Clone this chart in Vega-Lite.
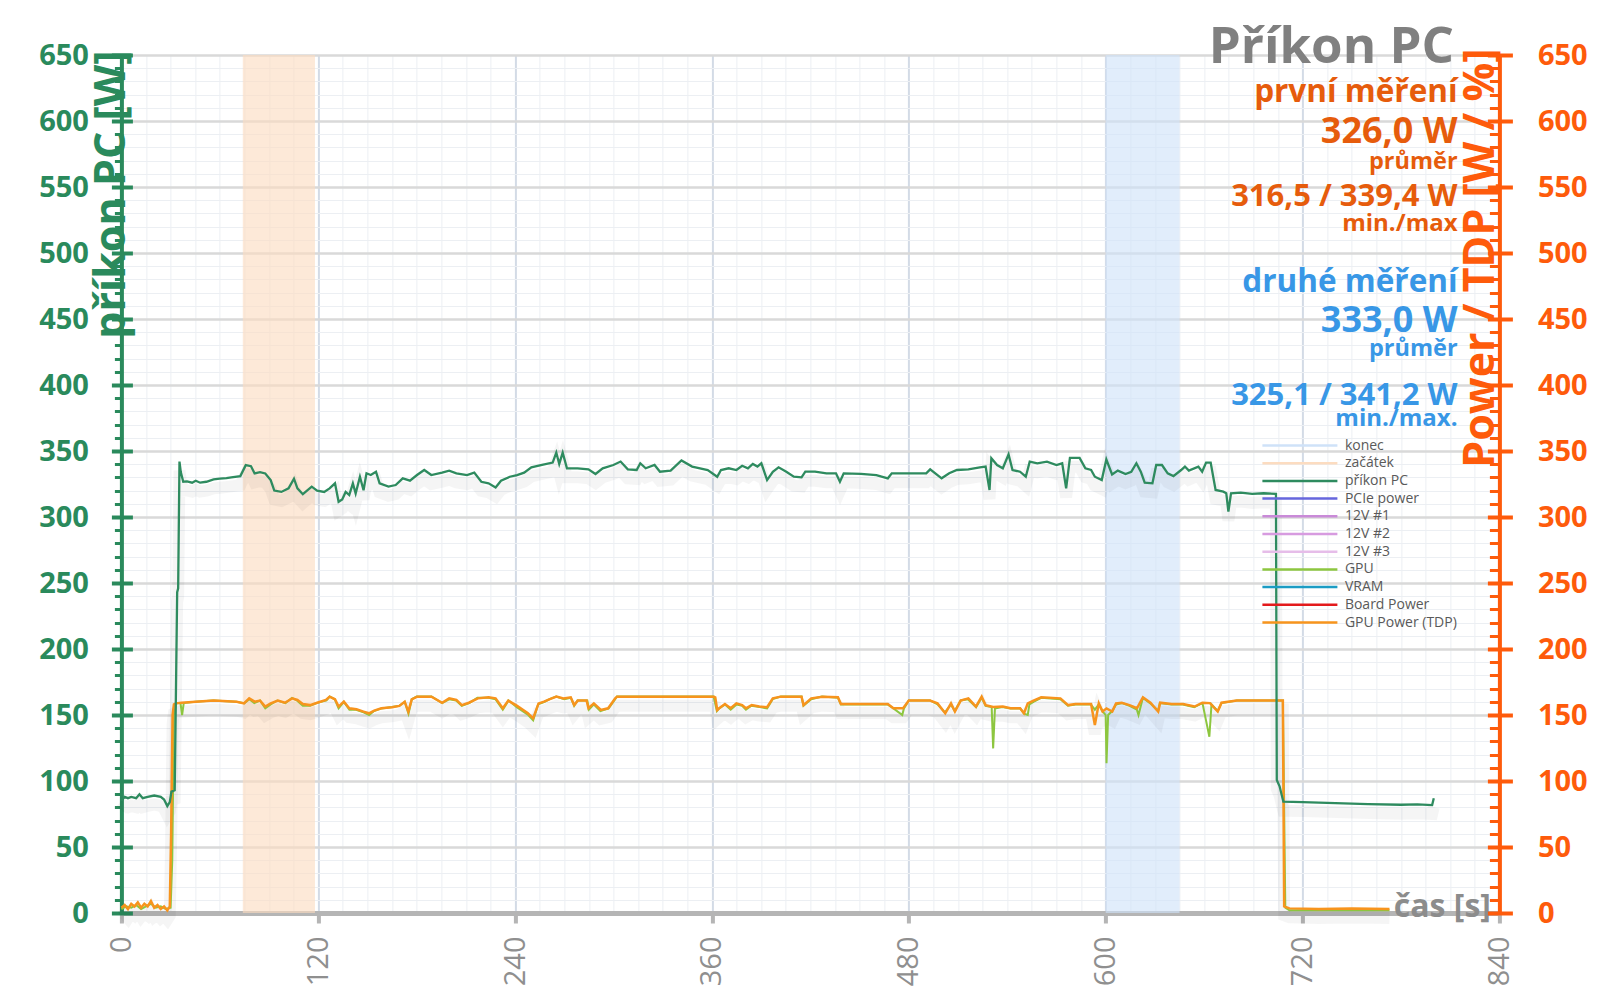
{
  "$schema": "https://vega.github.io/schema/vega-lite/v6.json",
  "width": 1378,
  "height": 858,
  "autosize": {"type": "none"},
  "padding": {"left": 121.4, "top": 55, "right": 100.6, "bottom": 95},
  "background": "#ffffff",
  "config": {
    "view": {"stroke": null},
    "axis": {"labelFont": "Open Sans", "titleFont": "Open Sans"},
    "text": {"font": "Open Sans"}
  },
  "datasets": {
    "power": [
      {"t":0,"series":"příkon PC","w":85},{"t":2,"series":"příkon PC","w":88},{"t":4,"series":"příkon PC","w":87},{"t":6,"series":"příkon PC","w":88},{"t":9,"series":"příkon PC","w":87},{"t":11,"series":"příkon PC","w":90},{"t":13,"series":"příkon PC","w":87},{"t":16,"series":"příkon PC","w":88},{"t":20,"series":"příkon PC","w":89},{"t":24,"series":"příkon PC","w":88},{"t":26,"series":"příkon PC","w":86},{"t":28,"series":"příkon PC","w":81},{"t":29.5,"series":"příkon PC","w":84},{"t":30.5,"series":"příkon PC","w":92},{"t":32.5,"series":"příkon PC","w":93},{"t":34,"series":"příkon PC","w":243},{"t":34.6,"series":"příkon PC","w":246},{"t":35.4,"series":"příkon PC","w":342},{"t":36.2,"series":"příkon PC","w":334},{"t":37.7,"series":"příkon PC","w":326.7},{"t":40,"series":"příkon PC","w":327},{"t":43.1,"series":"příkon PC","w":326},{"t":45.3,"series":"příkon PC","w":327.5},{"t":48,"series":"příkon PC","w":326},{"t":51.8,"series":"příkon PC","w":326.7},{"t":56.2,"series":"příkon PC","w":328.5},{"t":60,"series":"příkon PC","w":329},{"t":64,"series":"příkon PC","w":329.5},{"t":67,"series":"příkon PC","w":330},{"t":72.5,"series":"příkon PC","w":331},{"t":75.8,"series":"příkon PC","w":339.3},{"t":79,"series":"příkon PC","w":338.5},{"t":81.2,"series":"příkon PC","w":333},{"t":84.5,"series":"příkon PC","w":334},{"t":87.7,"series":"příkon PC","w":333},{"t":91,"series":"příkon PC","w":328},{"t":93.2,"series":"příkon PC","w":320},{"t":97.5,"series":"příkon PC","w":319},{"t":101.9,"series":"příkon PC","w":321.7},{"t":105.2,"series":"příkon PC","w":329},{"t":107.3,"series":"příkon PC","w":321.7},{"t":110.6,"series":"příkon PC","w":317.3},{"t":116,"series":"příkon PC","w":323},{"t":119.3,"series":"příkon PC","w":320},{"t":123.6,"series":"příkon PC","w":319},{"t":126.9,"series":"příkon PC","w":321.7},{"t":130.2,"series":"příkon PC","w":325.5},{"t":132.4,"series":"příkon PC","w":311.5},{"t":134.6,"series":"příkon PC","w":313.3},{"t":136.7,"series":"příkon PC","w":319},{"t":138.9,"series":"příkon PC","w":316.6},{"t":141.1,"series":"příkon PC","w":325.5},{"t":142.8,"series":"příkon PC","w":317.8},{"t":145.4,"series":"příkon PC","w":330.5},{"t":147.6,"series":"příkon PC","w":320.3},{"t":149.4,"series":"příkon PC","w":333.1},{"t":152,"series":"příkon PC","w":331.8},{"t":155.2,"series":"příkon PC","w":334.3},{"t":157.4,"series":"příkon PC","w":325.5},{"t":162.8,"series":"příkon PC","w":323},{"t":167.2,"series":"příkon PC","w":324.2},{"t":171.5,"series":"příkon PC","w":329.3},{"t":175.9,"series":"příkon PC","w":327.5},{"t":180.2,"series":"příkon PC","w":331.8},{"t":184.6,"series":"příkon PC","w":335.6},{"t":188.9,"series":"příkon PC","w":331.8},{"t":195.5,"series":"příkon PC","w":333.6},{"t":199.8,"series":"příkon PC","w":335.1},{"t":204.2,"series":"příkon PC","w":333.1},{"t":210.7,"series":"příkon PC","w":331.8},{"t":215.1,"series":"příkon PC","w":333.6},{"t":219.4,"series":"příkon PC","w":326.7},{"t":223.8,"series":"příkon PC","w":325.5},{"t":228.1,"series":"příkon PC","w":322.4},{"t":231.4,"series":"příkon PC","w":327.5},{"t":236.8,"series":"příkon PC","w":330.5},{"t":241.2,"series":"příkon PC","w":331.8},{"t":245.5,"series":"příkon PC","w":333.6},{"t":249.9,"series":"příkon PC","w":337.6},{"t":256.4,"series":"příkon PC","w":339.4},{"t":262.9,"series":"příkon PC","w":341.2},{"t":265.1,"series":"příkon PC","w":348.8},{"t":266.9,"series":"příkon PC","w":340.2},{"t":269,"series":"příkon PC","w":348.8},{"t":271.6,"series":"příkon PC","w":336.9},{"t":278.1,"series":"příkon PC","w":336.9},{"t":284.7,"series":"příkon PC","w":336.1},{"t":289,"series":"příkon PC","w":332.6},{"t":293.4,"series":"příkon PC","w":336.9},{"t":299.9,"series":"příkon PC","w":339.4},{"t":304.3,"series":"příkon PC","w":342},{"t":308.7,"series":"příkon PC","w":336.1},{"t":314.1,"series":"příkon PC","w":335.6},{"t":316.3,"series":"příkon PC","w":340.7},{"t":319.6,"series":"příkon PC","w":336.9},{"t":325,"series":"příkon PC","w":339.4},{"t":328.3,"series":"příkon PC","w":334.3},{"t":334.8,"series":"příkon PC","w":335.1},{"t":341.4,"series":"příkon PC","w":342.8},{"t":347.9,"series":"příkon PC","w":338.2},{"t":352.7,"series":"příkon PC","w":336.8},{"t":357.4,"series":"příkon PC","w":335.5},{"t":363.2,"series":"příkon PC","w":330.5},{"t":365.5,"series":"příkon PC","w":335.6},{"t":370.2,"series":"příkon PC","w":336.9},{"t":374.9,"series":"příkon PC","w":335.6},{"t":378.4,"series":"příkon PC","w":338.8},{"t":381.9,"series":"příkon PC","w":336.9},{"t":384.9,"series":"příkon PC","w":340.2},{"t":387.7,"series":"příkon PC","w":338.2},{"t":390.1,"series":"příkon PC","w":340.7},{"t":393.6,"series":"příkon PC","w":328},{"t":397.1,"series":"příkon PC","w":334.3},{"t":400.6,"series":"příkon PC","w":337.6},{"t":405.3,"series":"příkon PC","w":334.3},{"t":409.9,"series":"příkon PC","w":330.5},{"t":414.6,"series":"příkon PC","w":330},{"t":416.9,"series":"příkon PC","w":334.3},{"t":422.8,"series":"příkon PC","w":334.3},{"t":429.8,"series":"příkon PC","w":333.1},{"t":435.6,"series":"příkon PC","w":333.1},{"t":438,"series":"příkon PC","w":326.7},{"t":440.3,"series":"příkon PC","w":333.1},{"t":450.8,"series":"příkon PC","w":332.6},{"t":460.2,"series":"příkon PC","w":331.8},{"t":467.2,"series":"příkon PC","w":329.3},{"t":469.6,"series":"příkon PC","w":333.1},{"t":483.6,"series":"příkon PC","w":333.1},{"t":490.6,"series":"příkon PC","w":333.1},{"t":493,"series":"příkon PC","w":336.1},{"t":500,"series":"příkon PC","w":329.3},{"t":504.6,"series":"příkon PC","w":333.1},{"t":509.3,"series":"příkon PC","w":335.6},{"t":516.3,"series":"příkon PC","w":336.1},{"t":523.3,"series":"příkon PC","w":337.6},{"t":526.8,"series":"příkon PC","w":338.2},{"t":529.2,"series":"příkon PC","w":320.5},{"t":530.3,"series":"příkon PC","w":344.5},{"t":533.8,"series":"příkon PC","w":339.4},{"t":537.3,"series":"příkon PC","w":336.9},{"t":540.8,"series":"příkon PC","w":347.4},{"t":543.2,"series":"příkon PC","w":335.6},{"t":547.8,"series":"příkon PC","w":334.3},{"t":551.3,"series":"příkon PC","w":330.5},{"t":553.7,"series":"příkon PC","w":341.9},{"t":558.3,"series":"příkon PC","w":340.7},{"t":564.2,"series":"příkon PC","w":341.9},{"t":570,"series":"příkon PC","w":339.4},{"t":573.5,"series":"příkon PC","w":340.7},{"t":575.9,"series":"příkon PC","w":321.7},{"t":578.2,"series":"příkon PC","w":344.8},{"t":584.1,"series":"příkon PC","w":344.8},{"t":587.6,"series":"příkon PC","w":336.9},{"t":591.1,"series":"příkon PC","w":335.6},{"t":593.4,"series":"příkon PC","w":330.5},{"t":597.6,"series":"příkon PC","w":328},{"t":600.4,"series":"příkon PC","w":343.5},{"t":603.9,"series":"příkon PC","w":332.2},{"t":607.4,"series":"příkon PC","w":335.1},{"t":612.1,"series":"příkon PC","w":332.6},{"t":615.6,"series":"příkon PC","w":334.3},{"t":618.7,"series":"příkon PC","w":340.7},{"t":621.4,"series":"příkon PC","w":334.3},{"t":623.8,"series":"příkon PC","w":326},{"t":628.5,"series":"příkon PC","w":325.5},{"t":630.8,"series":"příkon PC","w":339.4},{"t":634.3,"series":"příkon PC","w":339.4},{"t":637.8,"series":"příkon PC","w":333.1},{"t":641.3,"series":"příkon PC","w":331},{"t":646,"series":"příkon PC","w":335.6},{"t":648.3,"series":"příkon PC","w":338.2},{"t":650.7,"series":"příkon PC","w":335.1},{"t":656.5,"series":"příkon PC","w":338.2},{"t":658.8,"series":"příkon PC","w":334.3},{"t":661.2,"series":"příkon PC","w":341.2},{"t":664,"series":"příkon PC","w":341.2},{"t":667,"series":"příkon PC","w":320.5},{"t":671.7,"series":"příkon PC","w":319.2},{"t":673.5,"series":"příkon PC","w":318},{"t":674.8,"series":"příkon PC","w":304.1},{"t":676.4,"series":"příkon PC","w":318},{"t":682.3,"series":"příkon PC","w":318.5},{"t":689.3,"series":"příkon PC","w":317.5},{"t":696.3,"series":"příkon PC","w":318},{"t":703.8,"series":"příkon PC","w":317.5},{"t":704.3,"series":"příkon PC","w":100.7},{"t":706,"series":"příkon PC","w":96},{"t":708.3,"series":"příkon PC","w":84.3},{"t":720,"series":"příkon PC","w":84},{"t":740,"series":"příkon PC","w":83.3},{"t":760,"series":"příkon PC","w":82.5},{"t":780,"series":"příkon PC","w":82},{"t":790,"series":"příkon PC","w":82.3},{"t":799,"series":"příkon PC","w":81.8},{"t":800,"series":"příkon PC","w":87},

      {"t":0,"series":"GPU","w":3},{"t":3,"series":"GPU","w":5},{"t":6,"series":"GPU","w":4},{"t":9,"series":"GPU","w":6},{"t":12,"series":"GPU","w":3},{"t":15,"series":"GPU","w":5},{"t":18,"series":"GPU","w":7},{"t":21,"series":"GPU","w":4},{"t":24,"series":"GPU","w":5},{"t":27,"series":"GPU","w":3},{"t":30,"series":"GPU","w":4},{"t":31,"series":"GPU","w":40},{"t":32,"series":"GPU","w":150},{"t":33.5,"series":"GPU","w":159},{"t":36,"series":"GPU","w":159},{"t":37,"series":"GPU","w":150},{"t":38,"series":"GPU","w":159},{"t":45,"series":"GPU","w":160},{"t":56,"series":"GPU","w":161},{"t":70,"series":"GPU","w":160},{"t":75,"series":"GPU","w":159},{"t":78,"series":"GPU","w":162},{"t":81,"series":"GPU","w":159},{"t":84.5,"series":"GPU","w":161},{"t":87.7,"series":"GPU","w":155},{"t":91,"series":"GPU","w":158},{"t":95,"series":"GPU","w":161},{"t":100,"series":"GPU","w":159},{"t":104,"series":"GPU","w":163},{"t":107,"series":"GPU","w":161},{"t":110.6,"series":"GPU","w":157},{"t":115,"series":"GPU","w":157},{"t":119,"series":"GPU","w":159},{"t":125,"series":"GPU","w":161},{"t":127,"series":"GPU","w":164},{"t":130,"series":"GPU","w":162},{"t":132.4,"series":"GPU","w":155},{"t":135.6,"series":"GPU","w":160},{"t":139,"series":"GPU","w":154},{"t":143,"series":"GPU","w":154},{"t":147.6,"series":"GPU","w":152},{"t":151,"series":"GPU","w":150},{"t":154,"series":"GPU","w":153},{"t":158.5,"series":"GPU","w":155},{"t":165,"series":"GPU","w":156},{"t":169.4,"series":"GPU","w":157},{"t":172.7,"series":"GPU","w":160},{"t":175,"series":"GPU","w":151},{"t":177,"series":"GPU","w":162},{"t":180,"series":"GPU","w":164},{"t":189,"series":"GPU","w":164},{"t":195.5,"series":"GPU","w":159},{"t":200,"series":"GPU","w":162},{"t":204,"series":"GPU","w":161},{"t":207.5,"series":"GPU","w":157},{"t":212,"series":"GPU","w":159},{"t":217,"series":"GPU","w":163},{"t":224,"series":"GPU","w":163},{"t":228,"series":"GPU","w":162},{"t":232.5,"series":"GPU","w":154},{"t":236,"series":"GPU","w":161},{"t":241,"series":"GPU","w":156},{"t":248,"series":"GPU","w":150},{"t":251,"series":"GPU","w":146},{"t":254,"series":"GPU","w":158},{"t":258,"series":"GPU","w":160},{"t":261,"series":"GPU","w":162},{"t":265,"series":"GPU","w":164},{"t":270,"series":"GPU","w":162},{"t":274,"series":"GPU","w":163},{"t":276,"series":"GPU","w":157},{"t":278,"series":"GPU","w":161},{"t":284,"series":"GPU","w":161},{"t":285,"series":"GPU","w":154},{"t":288,"series":"GPU","w":158},{"t":292,"series":"GPU","w":153},{"t":297,"series":"GPU","w":155},{"t":301,"series":"GPU","w":162},{"t":302,"series":"GPU","w":164},{"t":361,"series":"GPU","w":164},{"t":363,"series":"GPU","w":153},{"t":364.4,"series":"GPU","w":155},{"t":368,"series":"GPU","w":158},{"t":371.4,"series":"GPU","w":154},{"t":375,"series":"GPU","w":158},{"t":378.4,"series":"GPU","w":157},{"t":380.7,"series":"GPU","w":154},{"t":384,"series":"GPU","w":157},{"t":389,"series":"GPU","w":156},{"t":393.6,"series":"GPU","w":155},{"t":397,"series":"GPU","w":162},{"t":402,"series":"GPU","w":164},{"t":414.6,"series":"GPU","w":164},{"t":415.8,"series":"GPU","w":157},{"t":420.5,"series":"GPU","w":162},{"t":427,"series":"GPU","w":164},{"t":436.8,"series":"GPU","w":163},{"t":438.6,"series":"GPU","w":158},{"t":467,"series":"GPU","w":158},{"t":470.6,"series":"GPU","w":155},{"t":476,"series":"GPU","w":150},{"t":477,"series":"GPU","w":155},{"t":480,"series":"GPU","w":161},{"t":493,"series":"GPU","w":161},{"t":497.5,"series":"GPU","w":158},{"t":502,"series":"GPU","w":152},{"t":505.7,"series":"GPU","w":158},{"t":508,"series":"GPU","w":153},{"t":511.6,"series":"GPU","w":161},{"t":516,"series":"GPU","w":162},{"t":521,"series":"GPU","w":156},{"t":524.4,"series":"GPU","w":163},{"t":526.8,"series":"GPU","w":157},{"t":530.5,"series":"GPU","w":156},{"t":531.4,"series":"GPU","w":124.7},{"t":532.5,"series":"GPU","w":155},{"t":537,"series":"GPU","w":156},{"t":542,"series":"GPU","w":155},{"t":548,"series":"GPU","w":155},{"t":550.2,"series":"GPU","w":151},{"t":552.5,"series":"GPU","w":150},{"t":553.5,"series":"GPU","w":158},{"t":556,"series":"GPU","w":160},{"t":560.7,"series":"GPU","w":163},{"t":572.4,"series":"GPU","w":162},{"t":577,"series":"GPU","w":157},{"t":581.7,"series":"GPU","w":158},{"t":591,"series":"GPU","w":158},{"t":593.4,"series":"GPU","w":154},{"t":595.8,"series":"GPU","w":158},{"t":598,"series":"GPU","w":153},{"t":600,"series":"GPU","w":150},{"t":600.5,"series":"GPU","w":113.4},{"t":601.5,"series":"GPU","w":150},{"t":604,"series":"GPU","w":153},{"t":606.3,"series":"GPU","w":158},{"t":610,"series":"GPU","w":159},{"t":614.5,"series":"GPU","w":157},{"t":619,"series":"GPU","w":154},{"t":620,"series":"GPU","w":150},{"t":622.7,"series":"GPU","w":163},{"t":627,"series":"GPU","w":159},{"t":632,"series":"GPU","w":153},{"t":633,"series":"GPU","w":159},{"t":640,"series":"GPU","w":158},{"t":647,"series":"GPU","w":158},{"t":654,"series":"GPU","w":156},{"t":659,"series":"GPU","w":159},{"t":663.2,"series":"GPU","w":133.5},{"t":664.5,"series":"GPU","w":158},{"t":668.3,"series":"GPU","w":153},{"t":670.6,"series":"GPU","w":159},{"t":680,"series":"GPU","w":161},{"t":708,"series":"GPU","w":161},{"t":709.5,"series":"GPU","w":4},{"t":712,"series":"GPU","w":2},{"t":740,"series":"GPU","w":2},{"t":773,"series":"GPU","w":2},

      {"t":0,"series":"GPU Power (TDP)","w":4},{"t":2,"series":"GPU Power (TDP)","w":6},{"t":4,"series":"GPU Power (TDP)","w":3},{"t":6,"series":"GPU Power (TDP)","w":7},{"t":8,"series":"GPU Power (TDP)","w":5},{"t":10,"series":"GPU Power (TDP)","w":8},{"t":12,"series":"GPU Power (TDP)","w":4},{"t":14,"series":"GPU Power (TDP)","w":7},{"t":16,"series":"GPU Power (TDP)","w":5},{"t":18,"series":"GPU Power (TDP)","w":9},{"t":20,"series":"GPU Power (TDP)","w":4},{"t":22,"series":"GPU Power (TDP)","w":6},{"t":24,"series":"GPU Power (TDP)","w":3},{"t":26,"series":"GPU Power (TDP)","w":5},{"t":28,"series":"GPU Power (TDP)","w":2},{"t":29.5,"series":"GPU Power (TDP)","w":5},{"t":30.3,"series":"GPU Power (TDP)","w":60},{"t":31.2,"series":"GPU Power (TDP)","w":150},{"t":32,"series":"GPU Power (TDP)","w":158},{"t":33.3,"series":"GPU Power (TDP)","w":158.8},{"t":36.6,"series":"GPU Power (TDP)","w":159.3},{"t":45.3,"series":"GPU Power (TDP)","w":160.1},{"t":56.2,"series":"GPU Power (TDP)","w":160.9},{"t":70.3,"series":"GPU Power (TDP)","w":160.1},{"t":74.7,"series":"GPU Power (TDP)","w":158.8},{"t":77.9,"series":"GPU Power (TDP)","w":162.6},{"t":81.2,"series":"GPU Power (TDP)","w":160.1},{"t":84.5,"series":"GPU Power (TDP)","w":160.9},{"t":87.7,"series":"GPU Power (TDP)","w":156.4},{"t":91,"series":"GPU Power (TDP)","w":158.8},{"t":95.4,"series":"GPU Power (TDP)","w":160.9},{"t":99.7,"series":"GPU Power (TDP)","w":159.3},{"t":104.1,"series":"GPU Power (TDP)","w":162.6},{"t":107.3,"series":"GPU Power (TDP)","w":161.4},{"t":110.6,"series":"GPU Power (TDP)","w":158.3},{"t":115,"series":"GPU Power (TDP)","w":157.5},{"t":119.3,"series":"GPU Power (TDP)","w":159.3},{"t":124.7,"series":"GPU Power (TDP)","w":161.4},{"t":126.9,"series":"GPU Power (TDP)","w":163.9},{"t":130.2,"series":"GPU Power (TDP)","w":161.9},{"t":132.4,"series":"GPU Power (TDP)","w":156.4},{"t":135.6,"series":"GPU Power (TDP)","w":160.1},{"t":138.9,"series":"GPU Power (TDP)","w":155.1},{"t":143.3,"series":"GPU Power (TDP)","w":154.3},{"t":147.6,"series":"GPU Power (TDP)","w":152.6},{"t":150.9,"series":"GPU Power (TDP)","w":151.3},{"t":154.1,"series":"GPU Power (TDP)","w":153.3},{"t":158.5,"series":"GPU Power (TDP)","w":155.1},{"t":165,"series":"GPU Power (TDP)","w":155.9},{"t":169.4,"series":"GPU Power (TDP)","w":156.9},{"t":172.7,"series":"GPU Power (TDP)","w":160.1},{"t":174.9,"series":"GPU Power (TDP)","w":152.6},{"t":177,"series":"GPU Power (TDP)","w":161.9},{"t":180.3,"series":"GPU Power (TDP)","w":163.9},{"t":189,"series":"GPU Power (TDP)","w":163.9},{"t":195.5,"series":"GPU Power (TDP)","w":159.3},{"t":199.8,"series":"GPU Power (TDP)","w":162.6},{"t":204.2,"series":"GPU Power (TDP)","w":161.4},{"t":207.5,"series":"GPU Power (TDP)","w":157.5},{"t":211.8,"series":"GPU Power (TDP)","w":159.3},{"t":217.3,"series":"GPU Power (TDP)","w":162.6},{"t":223.8,"series":"GPU Power (TDP)","w":163.4},{"t":228.1,"series":"GPU Power (TDP)","w":162.6},{"t":232.5,"series":"GPU Power (TDP)","w":155.1},{"t":235.8,"series":"GPU Power (TDP)","w":160.9},{"t":241.2,"series":"GPU Power (TDP)","w":156.9},{"t":247.8,"series":"GPU Power (TDP)","w":151.3},{"t":251,"series":"GPU Power (TDP)","w":147.5},{"t":254.3,"series":"GPU Power (TDP)","w":158.8},{"t":257.6,"series":"GPU Power (TDP)","w":160.1},{"t":260.8,"series":"GPU Power (TDP)","w":161.9},{"t":265.2,"series":"GPU Power (TDP)","w":163.9},{"t":269.5,"series":"GPU Power (TDP)","w":162.6},{"t":273.9,"series":"GPU Power (TDP)","w":163.4},{"t":276,"series":"GPU Power (TDP)","w":157.5},{"t":278.2,"series":"GPU Power (TDP)","w":160.9},{"t":283.6,"series":"GPU Power (TDP)","w":160.9},{"t":284.7,"series":"GPU Power (TDP)","w":155.1},{"t":288,"series":"GPU Power (TDP)","w":158.8},{"t":292.3,"series":"GPU Power (TDP)","w":153.8},{"t":296.7,"series":"GPU Power (TDP)","w":155.1},{"t":301,"series":"GPU Power (TDP)","w":162.6},{"t":302.2,"series":"GPU Power (TDP)","w":163.9},{"t":328.3,"series":"GPU Power (TDP)","w":163.9},{"t":361,"series":"GPU Power (TDP)","w":163.9},{"t":362,"series":"GPU Power (TDP)","w":163.4},{"t":363.2,"series":"GPU Power (TDP)","w":153.8},{"t":364.4,"series":"GPU Power (TDP)","w":155.1},{"t":367.9,"series":"GPU Power (TDP)","w":158.3},{"t":371.4,"series":"GPU Power (TDP)","w":155.1},{"t":374.9,"series":"GPU Power (TDP)","w":158.8},{"t":378.4,"series":"GPU Power (TDP)","w":157.5},{"t":380.7,"series":"GPU Power (TDP)","w":155.1},{"t":384.2,"series":"GPU Power (TDP)","w":157.5},{"t":388.9,"series":"GPU Power (TDP)","w":156.4},{"t":393.6,"series":"GPU Power (TDP)","w":155.9},{"t":397.1,"series":"GPU Power (TDP)","w":162.6},{"t":401.8,"series":"GPU Power (TDP)","w":163.9},{"t":414.6,"series":"GPU Power (TDP)","w":163.9},{"t":415.8,"series":"GPU Power (TDP)","w":157.5},{"t":420.5,"series":"GPU Power (TDP)","w":162.6},{"t":427.4,"series":"GPU Power (TDP)","w":163.9},{"t":436.8,"series":"GPU Power (TDP)","w":163.4},{"t":438.6,"series":"GPU Power (TDP)","w":158.3},{"t":450.8,"series":"GPU Power (TDP)","w":158.3},{"t":467.2,"series":"GPU Power (TDP)","w":158.3},{"t":470.6,"series":"GPU Power (TDP)","w":155.1},{"t":476.5,"series":"GPU Power (TDP)","w":155.1},{"t":480,"series":"GPU Power (TDP)","w":160.9},{"t":492.9,"series":"GPU Power (TDP)","w":160.9},{"t":497.5,"series":"GPU Power (TDP)","w":158.8},{"t":502.2,"series":"GPU Power (TDP)","w":151.3},{"t":505.7,"series":"GPU Power (TDP)","w":158.8},{"t":508.1,"series":"GPU Power (TDP)","w":152.6},{"t":511.6,"series":"GPU Power (TDP)","w":160.9},{"t":516.3,"series":"GPU Power (TDP)","w":162.6},{"t":520.9,"series":"GPU Power (TDP)","w":156.4},{"t":524.4,"series":"GPU Power (TDP)","w":163.9},{"t":526.8,"series":"GPU Power (TDP)","w":157.5},{"t":531.4,"series":"GPU Power (TDP)","w":156},{"t":537.3,"series":"GPU Power (TDP)","w":156.4},{"t":542,"series":"GPU Power (TDP)","w":155.1},{"t":547.8,"series":"GPU Power (TDP)","w":155.1},{"t":550.2,"series":"GPU Power (TDP)","w":151.3},{"t":552.5,"series":"GPU Power (TDP)","w":158.8},{"t":556,"series":"GPU Power (TDP)","w":160.9},{"t":560.7,"series":"GPU Power (TDP)","w":163.4},{"t":572.4,"series":"GPU Power (TDP)","w":162.6},{"t":577.1,"series":"GPU Power (TDP)","w":157.5},{"t":581.7,"series":"GPU Power (TDP)","w":158.3},{"t":591.1,"series":"GPU Power (TDP)","w":158.3},{"t":593.4,"series":"GPU Power (TDP)","w":142.4},{"t":595.8,"series":"GPU Power (TDP)","w":158.8},{"t":598.1,"series":"GPU Power (TDP)","w":152.6},{"t":600.5,"series":"GPU Power (TDP)","w":155},{"t":604,"series":"GPU Power (TDP)","w":152.6},{"t":606.3,"series":"GPU Power (TDP)","w":158.8},{"t":609.8,"series":"GPU Power (TDP)","w":159.3},{"t":614.5,"series":"GPU Power (TDP)","w":157.5},{"t":619.1,"series":"GPU Power (TDP)","w":155.1},{"t":622.7,"series":"GPU Power (TDP)","w":163.4},{"t":627.3,"series":"GPU Power (TDP)","w":159.3},{"t":632,"series":"GPU Power (TDP)","w":152.6},{"t":633.2,"series":"GPU Power (TDP)","w":159.3},{"t":640.2,"series":"GPU Power (TDP)","w":158.3},{"t":647.2,"series":"GPU Power (TDP)","w":158.3},{"t":654.2,"series":"GPU Power (TDP)","w":156.4},{"t":658.9,"series":"GPU Power (TDP)","w":159.3},{"t":663.6,"series":"GPU Power (TDP)","w":159},{"t":668.3,"series":"GPU Power (TDP)","w":152.6},{"t":670.6,"series":"GPU Power (TDP)","w":159.3},{"t":679.9,"series":"GPU Power (TDP)","w":160.9},{"t":708,"series":"GPU Power (TDP)","w":160.9},{"t":708.8,"series":"GPU Power (TDP)","w":5},{"t":712,"series":"GPU Power (TDP)","w":3.5},{"t":730,"series":"GPU Power (TDP)","w":3},{"t":750,"series":"GPU Power (TDP)","w":3.5},{"t":773,"series":"GPU Power (TDP)","w":3}
    ],
    "bands": [
      {"start": 74, "end": 118, "series": "začátek"},
      {"start": 600, "end": 645, "series": "konec"}
    ]
  },
  "resolve": {"axis": {"x": "independent", "y": "independent"}},
  "layer": [
    {
      "data": {"name": "bands"},
      "mark": {"type": "rect", "opacity": 0.62},
      "encoding": {
        "x": {"field": "start", "type": "quantitative", "scale": {"domain": [0, 840], "nice": false, "zero": false},
          "axis": {"orient": "bottom", "values": [0,15,30,45,60,75,90,105,120,135,150,165,180,195,210,225,240,255,270,285,300,315,330,345,360,375,390,405,420,435,450,465,480,495,510,525,540,555,570,585,600,615,630,645,660,675,690,705,720,735,750,765,780,795,810,825,840], "labels": false, "ticks": false, "domain": false, "grid": true, "gridColor": "#eceff3", "gridWidth": 1, "title": null}},
        "x2": {"field": "end"},
        "fill": {"field": "series", "type": "nominal",
          "scale": {"domain": ["konec","začátek"], "range": ["#cfe2f8","#fcdcc0"]},
          "legend": null}
      }
    },
    {
      "data": {"name": "power"},
      "transform": [{"filter": "datum.series === 'příkon PC' || datum.series === 'GPU Power (TDP)'"}],
      "mark": {"type": "line", "stroke": "#000000", "strokeOpacity": 0.04, "strokeWidth": 12, "yOffset": 9},
      "encoding": {
        "x": {"field": "t", "type": "quantitative", "scale": {"domain": [0, 840], "nice": false, "zero": false}, "axis": null},
        "y": {"field": "w", "type": "quantitative", "scale": {"domain": [0, 650], "nice": false, "zero": false},
          "axis": {"orient": "left", "values": [0,10,20,30,40,50,60,70,80,90,100,110,120,130,140,150,160,170,180,190,200,210,220,230,240,250,260,270,280,290,300,310,320,330,340,350,360,370,380,390,400,410,420,430,440,450,460,470,480,490,500,510,520,530,540,550,560,570,580,590,600,610,620,630,640,650], "labels": false, "tickSize": 7, "tickWidth": 3, "tickColor": "#2a8a5c", "domain": false, "grid": true, "gridColor": "#eceff3", "gridWidth": 1, "title": null}},
        "detail": {"field": "series", "type": "nominal"}
      }
    },
    {
      "data": {"name": "power"},
      "transform": [{"filter": "datum.series === 'GPU'"}],
      "mark": {"type": "line"},
      "encoding": {
        "x": {"field": "t", "type": "quantitative", "scale": {"domain": [0, 840], "nice": false, "zero": false}, "axis": null},
        "y": {"field": "w", "type": "quantitative", "scale": {"domain": [0, 650], "nice": false, "zero": false},
          "axis": {"orient": "left", "values": [0,50,100,150,200,250,300,350,400,450,500,550,600,650], "labels": false, "tickSize": -11, "tickWidth": 4, "tickColor": "#2a8a5c", "domain": false, "grid": false, "title": null}},
        "color": {"field": "series", "type": "nominal",
          "scale": {"domain": ["konec","začátek","příkon PC","PCIe power","12V #1","12V #2","12V #3","GPU","VRAM","Board Power","GPU Power (TDP)"], "range": ["#cfe2f8","#fcdcc0","#2e8b5f","#6666dd","#c98ad8","#d79be0","#e6bde9","#8dc63f","#1b9cc4","#e31a1c","#f7941d"]},
          "legend": {"orient": "none", "legendX": 1199.5, "legendY": 381.5, "title": null, "symbolType": "M-9,0H1", "symbolSize": 225, "symbolStrokeWidth": 2.5, "labelFont": "Open Sans", "labelFontSize": 14, "labelColor": "#595959", "labelOffset": 6, "rowPadding": 1.7, "padding": 0}},
        "strokeWidth": {"value": 2}
      }
    },
    {
      "data": {"name": "power"},
      "transform": [{"filter": "datum.series === 'GPU Power (TDP)'"}],
      "mark": {"type": "line", "strokeWidth": 2.5},
      "encoding": {
        "x": {"field": "t", "type": "quantitative", "scale": {"domain": [0, 840], "nice": false, "zero": false}, "axis": null},
        "y": {"field": "w", "type": "quantitative", "scale": {"domain": [0, 650], "nice": false, "zero": false},
          "axis": {"orient": "right", "values": [0,50,100,150,200,250,300,350,400,450,500,550,600,650], "labelFontSize": 29, "labelFontWeight": "bold", "labelColor": "#fe5b0b", "labelPadding": 25, "labelFlush": false, "tickSize": 13, "tickWidth": 4, "tickColor": "#fe5b0b", "domainColor": "#fe5b0b", "domainWidth": 4, "grid": false,
            "title": "Power / TDP [W / %]", "titleFontSize": 43, "titleFontWeight": "bold", "titleColor": "#fe5b0b", "titleAngle": -90, "titleAlign": "right", "titleBaseline": "alphabetic", "titleX": -6, "titleY": -7}},
        "color": {"field": "series", "type": "nominal",
          "scale": {"domain": ["konec","začátek","příkon PC","PCIe power","12V #1","12V #2","12V #3","GPU","VRAM","Board Power","GPU Power (TDP)"], "range": ["#cfe2f8","#fcdcc0","#2e8b5f","#6666dd","#c98ad8","#d79be0","#e6bde9","#8dc63f","#1b9cc4","#e31a1c","#f7941d"]},
          "legend": {"orient": "none", "legendX": 1199.5, "legendY": 381.5, "title": null, "symbolType": "M-9,0H1", "symbolSize": 225, "symbolStrokeWidth": 2.5, "labelFont": "Open Sans", "labelFontSize": 14, "labelColor": "#595959", "labelOffset": 6, "rowPadding": 1.7, "padding": 0}}
      }
    },
    {
      "data": {"name": "power"},
      "transform": [{"filter": "datum.series === 'příkon PC'"}],
      "mark": {"type": "line", "strokeWidth": 2.3},
      "encoding": {
        "x": {"field": "t", "type": "quantitative", "scale": {"domain": [0, 840], "nice": false, "zero": false},
          "axis": {"orient": "bottom", "values": [0,120,240,360,480,600,720,840], "labelAngle": -90, "labelAlign": "right", "labelBaseline": "middle", "labelFontSize": 29, "labelColor": "#8f8f8f", "labelPadding": 13, "labelFlush": false, "labelOverlap": false, "tickSize": 10, "tickWidth": 4, "tickColor": "#b5b5b5", "domainColor": "#b5b5b5", "domainWidth": 5, "grid": true, "gridColor": "#d3dbe6", "gridWidth": 2,
            "title": "čas [s]", "titleFontSize": 32, "titleFontWeight": "bold", "titleColor": "#8c8c8c", "titleX": 1369, "titleY": 3, "titleAlign": "right", "titleBaseline": "alphabetic", "titleAngle": 0}},
        "y": {"field": "w", "type": "quantitative", "scale": {"domain": [0, 650], "nice": false, "zero": false},
          "axis": {"orient": "left", "values": [0,50,100,150,200,250,300,350,400,450,500,550,600,650], "labelFontSize": 29, "labelFontWeight": "bold", "labelColor": "#2a8a5c", "labelPadding": 23, "labelFlush": false, "tickSize": 10, "tickWidth": 4, "tickColor": "#2a8a5c", "domainColor": "#2a8a5c", "domainWidth": 4, "grid": true, "gridColor": "#d9d9d9", "gridWidth": 2.5,
            "title": "příkon PC [W]", "titleFontSize": 43, "titleFontWeight": "bold", "titleColor": "#2a8a5c", "titleAngle": -90, "titleAlign": "right", "titleBaseline": "alphabetic", "titleX": 3, "titleY": -5}},
        "color": {"field": "series", "type": "nominal",
          "scale": {"domain": ["konec","začátek","příkon PC","PCIe power","12V #1","12V #2","12V #3","GPU","VRAM","Board Power","GPU Power (TDP)"], "range": ["#cfe2f8","#fcdcc0","#2e8b5f","#6666dd","#c98ad8","#d79be0","#e6bde9","#8dc63f","#1b9cc4","#e31a1c","#f7941d"]},
          "legend": {"orient": "none", "legendX": 1199.5, "legendY": 381.5, "title": null, "symbolType": "M-9,0H1", "symbolSize": 225, "symbolStrokeWidth": 2.5, "labelFont": "Open Sans", "labelFontSize": 14, "labelColor": "#595959", "labelOffset": 6, "rowPadding": 1.7, "padding": 0}}
      }
    },
    {
      "data": {"values": [{"label": "Příkon PC"}]},
      "mark": {"type": "text", "align": "right", "baseline": "alphabetic", "fontWeight": "bold", "fontSize": 51, "color": "#808080"},
      "encoding": {
        "x": {"datum": 812.3, "type": "quantitative", "scale": {"domain": [0, 840], "nice": false, "zero": false}, "axis": null},
        "y": {"datum": 643.8, "type": "quantitative", "scale": {"domain": [0, 650], "nice": false, "zero": false}, "axis": null},
        "text": {"field": "label"}
      }
    },
    {
      "data": {"values": [{"label": "první měření"}]},
      "mark": {"type": "text", "align": "right", "baseline": "alphabetic", "fontWeight": "bold", "fontSize": 31.5, "color": "#e65c0c"},
      "encoding": {
        "x": {"datum": 814.5, "type": "quantitative", "scale": {"domain": [0, 840], "nice": false, "zero": false}, "axis": null},
        "y": {"datum": 614.5, "type": "quantitative", "scale": {"domain": [0, 650], "nice": false, "zero": false},
          "axis": {"orient": "right", "values": [0,10,20,30,40,50,60,70,80,90,100,110,120,130,140,150,160,170,180,190,200,210,220,230,240,250,260,270,280,290,300,310,320,330,340,350,360,370,380,390,400,410,420,430,440,450,460,470,480,490,500,510,520,530,540,550,560,570,580,590,600,610,620,630,640,650], "labels": false, "tickSize": -10, "tickWidth": 3, "tickColor": "#fe5b0b", "domain": false, "grid": false, "title": null}},
        "text": {"field": "label"}
      }
    },
    {
      "data": {"values": [{"label": "326,0 W"}]},
      "mark": {"type": "text", "align": "right", "baseline": "alphabetic", "fontWeight": "bold", "fontSize": 36, "color": "#e65c0c"},
      "encoding": {
        "x": {"datum": 814.5, "type": "quantitative", "scale": {"domain": [0, 840], "nice": false, "zero": false}, "axis": null},
        "y": {"datum": 583.5, "type": "quantitative", "scale": {"domain": [0, 650], "nice": false, "zero": false},
          "axis": {"orient": "right", "values": [0,50,100,150,200,250,300,350,400,450,500,550,600,650], "labels": false, "tickSize": -12, "tickWidth": 4, "tickColor": "#fe5b0b", "domain": false, "grid": false, "title": null}},
        "text": {"field": "label"}
      }
    },
    {
      "data": {"values": [{"label": "průměr"}]},
      "mark": {"type": "text", "align": "right", "baseline": "alphabetic", "fontWeight": "bold", "fontSize": 23.5, "color": "#e65c0c"},
      "encoding": {
        "x": {"datum": 814.5, "type": "quantitative", "scale": {"domain": [0, 840], "nice": false, "zero": false}, "axis": null},
        "y": {"datum": 563.5, "type": "quantitative", "scale": {"domain": [0, 650], "nice": false, "zero": false}, "axis": null},
        "text": {"field": "label"}
      }
    },
    {
      "data": {"values": [{"label": "316,5 / 339,4 W"}]},
      "mark": {"type": "text", "align": "right", "baseline": "alphabetic", "fontWeight": "bold", "fontSize": 31, "color": "#e65c0c"},
      "encoding": {
        "x": {"datum": 814.5, "type": "quantitative", "scale": {"domain": [0, 840], "nice": false, "zero": false}, "axis": null},
        "y": {"datum": 535.5, "type": "quantitative", "scale": {"domain": [0, 650], "nice": false, "zero": false}, "axis": null},
        "text": {"field": "label"}
      }
    },
    {
      "data": {"values": [{"label": "min./max"}]},
      "mark": {"type": "text", "align": "right", "baseline": "alphabetic", "fontWeight": "bold", "fontSize": 24, "color": "#e65c0c"},
      "encoding": {
        "x": {"datum": 814.5, "type": "quantitative", "scale": {"domain": [0, 840], "nice": false, "zero": false}, "axis": null},
        "y": {"datum": 517.0, "type": "quantitative", "scale": {"domain": [0, 650], "nice": false, "zero": false}, "axis": null},
        "text": {"field": "label"}
      }
    },
    {
      "data": {"values": [{"label": "druhé měření"}]},
      "mark": {"type": "text", "align": "right", "baseline": "alphabetic", "fontWeight": "bold", "fontSize": 31.5, "color": "#3897e6"},
      "encoding": {
        "x": {"datum": 814.5, "type": "quantitative", "scale": {"domain": [0, 840], "nice": false, "zero": false}, "axis": null},
        "y": {"datum": 470.6, "type": "quantitative", "scale": {"domain": [0, 650], "nice": false, "zero": false}, "axis": null},
        "text": {"field": "label"}
      }
    },
    {
      "data": {"values": [{"label": "333,0 W"}]},
      "mark": {"type": "text", "align": "right", "baseline": "alphabetic", "fontWeight": "bold", "fontSize": 36, "color": "#3897e6"},
      "encoding": {
        "x": {"datum": 814.5, "type": "quantitative", "scale": {"domain": [0, 840], "nice": false, "zero": false}, "axis": null},
        "y": {"datum": 440.0, "type": "quantitative", "scale": {"domain": [0, 650], "nice": false, "zero": false}, "axis": null},
        "text": {"field": "label"}
      }
    },
    {
      "data": {"values": [{"label": "průměr"}]},
      "mark": {"type": "text", "align": "right", "baseline": "alphabetic", "fontWeight": "bold", "fontSize": 23.5, "color": "#3897e6"},
      "encoding": {
        "x": {"datum": 814.5, "type": "quantitative", "scale": {"domain": [0, 840], "nice": false, "zero": false}, "axis": null},
        "y": {"datum": 422.2, "type": "quantitative", "scale": {"domain": [0, 650], "nice": false, "zero": false}, "axis": null},
        "text": {"field": "label"}
      }
    },
    {
      "data": {"values": [{"label": "325,1 / 341,2 W"}]},
      "mark": {"type": "text", "align": "right", "baseline": "alphabetic", "fontWeight": "bold", "fontSize": 31, "color": "#3897e6"},
      "encoding": {
        "x": {"datum": 814.5, "type": "quantitative", "scale": {"domain": [0, 840], "nice": false, "zero": false}, "axis": null},
        "y": {"datum": 384.8, "type": "quantitative", "scale": {"domain": [0, 650], "nice": false, "zero": false}, "axis": null},
        "text": {"field": "label"}
      }
    },
    {
      "data": {"values": [{"label": "min./max."}]},
      "mark": {"type": "text", "align": "right", "baseline": "alphabetic", "fontWeight": "bold", "fontSize": 24, "color": "#3897e6"},
      "encoding": {
        "x": {"datum": 814.5, "type": "quantitative", "scale": {"domain": [0, 840], "nice": false, "zero": false}, "axis": null},
        "y": {"datum": 369.3, "type": "quantitative", "scale": {"domain": [0, 650], "nice": false, "zero": false}, "axis": null},
        "text": {"field": "label"}
      }
    }
  ]
}
